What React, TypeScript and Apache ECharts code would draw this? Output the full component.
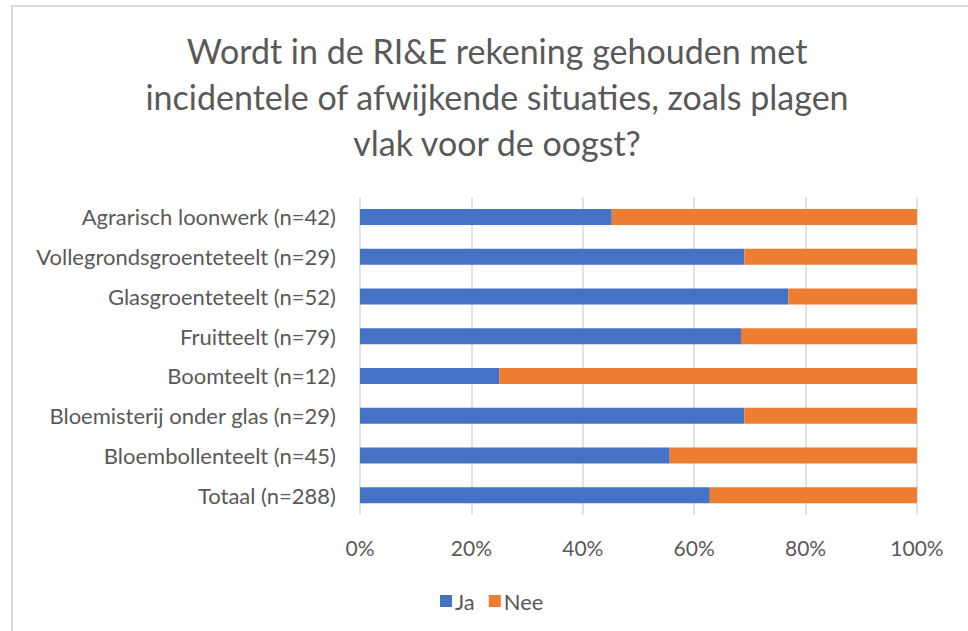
import React, { useEffect, useRef } from "react";
import * as echarts from "echarts";

const categories = [
  "Agrarisch loonwerk (n=42)",
  "Vollegrondsgroenteteelt (n=29)",
  "Glasgroenteteelt (n=52)",
  "Fruitteelt (n=79)",
  "Boomteelt (n=12)",
  "Bloemisterij onder glas (n=29)",
  "Bloembollenteelt (n=45)",
  "Totaal (n=288)",
];
const jaValues = [45.2, 69.0, 76.9, 68.4, 25.0, 69.0, 55.6, 62.8];
const neeValues = [54.8, 31.0, 23.1, 31.6, 75.0, 31.0, 44.4, 37.2];
const xTicks = [0, 20, 40, 60, 80, 100];

const FONT = "Lato, 'Open Sans', sans-serif";

export default function App() {
  const ref = useRef<HTMLDivElement>(null);
  useEffect(() => {
    document.body.style.margin = "0";
    const chart = echarts.init(ref.current!, null, { renderer: "svg" });
    const cats = [...categories].reverse();
    const ja = [...jaValues].reverse();
    const nee = [...neeValues].reverse();
    chart.setOption({
      animation: false,
      backgroundColor: "#ffffff",
      title: {
        text: "Wordt in de RI&E rekening gehouden met\nincidentele of afwijkende situaties, zoals plagen\nvlak voor de oogst?",
        left: 492,
        top: 22,
        textAlign: "center",
        textStyle: {
          fontFamily: FONT,
          fontSize: 34,
          fontWeight: "normal",
          color: "#595959",
          lineHeight: 46,
        },
      },
      graphic: [
        {
          type: "rect",
          shape: { x: 12, y: 6, width: 1000, height: 700 },
          style: { fill: "none", stroke: "#d9d9d9", lineWidth: 2 },
          silent: true,
        },
      ],
      legend: {
        data: ["Ja", "Nee"],
        left: 435,
        top: 585,
        itemWidth: 12,
        itemHeight: 12,
        itemGap: 14,
        icon: "rect",
        textStyle: { fontFamily: FONT, fontSize: 22, color: "#595959", padding: [0, 0, 0, -2] },
      },
      grid: { left: 360, right: 51, top: 197, bottom: 116, containLabel: false },
      xAxis: {
        type: "value",
        min: 0,
        max: 100,
        interval: 20,
        axisLine: { show: false },
        axisTick: { show: false },
        splitLine: { lineStyle: { color: "#d9d9d9", width: 1.5 } },
        axisLabel: {
          formatter: (v: number) => (xTicks.includes(v) ? v + "%" : ""),
          fontFamily: FONT,
          fontSize: 21,
          color: "#595959",
          margin: 22,
        },
      },
      yAxis: {
        type: "category",
        data: cats,
        axisLine: { show: false },
        axisTick: { show: false },
        axisLabel: { fontFamily: FONT, fontSize: 22, color: "#595959", margin: 24 },
      },
      series: [
        {
          name: "Ja",
          type: "bar",
          stack: "total",
          data: ja,
          barWidth: 16,
          itemStyle: { color: "#4472c4" },
        },
        {
          name: "Nee",
          type: "bar",
          stack: "total",
          data: nee,
          barWidth: 16,
          itemStyle: { color: "#ed7d31" },
        },
      ],
    });
    return () => chart.dispose();
  }, []);
  return <div ref={ref} style={{ width: 968, height: 631 }} />;
}
